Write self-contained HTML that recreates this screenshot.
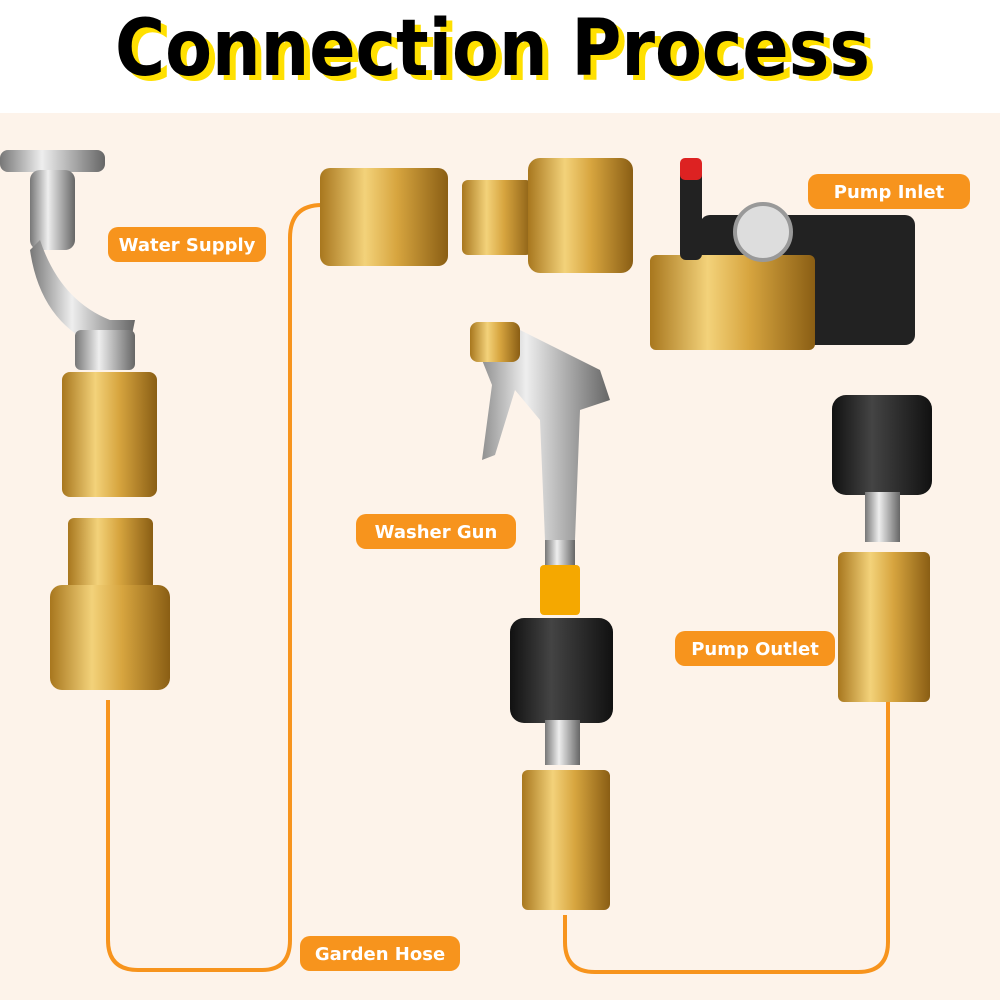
<!DOCTYPE html>
<html><head><meta charset="utf-8"><style>
body{margin:0;width:1000px;height:1000px;overflow:hidden;background:#fff;font-family:"DejaVu Sans","Liberation Sans",sans-serif}
</style></head><body>
<svg width="1000" height="1000" viewBox="0 0 1000 1000" xmlns="http://www.w3.org/2000/svg">
<defs>
<linearGradient id="g" x1="0" x2="1"><stop offset="0" stop-color="#a8771e"/><stop offset=".35" stop-color="#f3d27a"/><stop offset=".6" stop-color="#d7a53f"/><stop offset="1" stop-color="#8a5e14"/></linearGradient>
<linearGradient id="s" x1="0" x2="1"><stop offset="0" stop-color="#777"/><stop offset=".4" stop-color="#eee"/><stop offset="1" stop-color="#666"/></linearGradient>
<linearGradient id="k" x1="0" x2="1"><stop offset="0" stop-color="#111"/><stop offset=".4" stop-color="#444"/><stop offset="1" stop-color="#111"/></linearGradient>
</defs>
<rect x="0" y="113" width="1000" height="887" fill="#fdf3ea"/>
<text x="121" y="80" font-family="DejaVu Sans" font-weight="bold" font-size="78" fill="#ffe000" textLength="755" lengthAdjust="spacingAndGlyphs">Connection Process</text>
<text x="115" y="75" font-family="DejaVu Sans" font-weight="bold" font-size="78" fill="#000" textLength="755" lengthAdjust="spacingAndGlyphs">Connection Process</text>
<g fill="none" stroke="#f7941d" stroke-width="4">
<path d="M108 700 V940 Q108 970 138 970 H262 Q290 970 290 940 V238 Q290 205 322 205"/>
<path d="M565 915 V942 Q565 972 595 972 H858 Q888 972 888 942 V700"/>
</g>
<!-- faucet -->
<rect x="0" y="150" width="105" height="22" rx="8" fill="url(#s)"/>
<rect x="30" y="170" width="45" height="80" rx="10" fill="url(#s)"/>
<path d="M40 240 Q60 300 110 320 L135 320 L130 345 L95 345 Q40 320 30 250Z" fill="url(#s)"/>
<rect x="75" y="330" width="60" height="40" rx="6" fill="url(#s)"/>
<!-- left brass -->
<rect x="62" y="372" width="95" height="125" rx="8" fill="url(#g)"/>
<rect x="68" y="518" width="85" height="75" rx="6" fill="url(#g)"/>
<rect x="50" y="585" width="120" height="105" rx="12" fill="url(#g)"/>
<!-- top brass -->
<rect x="320" y="168" width="128" height="98" rx="10" fill="url(#g)"/>
<rect x="462" y="180" width="70" height="75" rx="6" fill="url(#g)"/>
<rect x="528" y="158" width="105" height="115" rx="12" fill="url(#g)"/>
<!-- pump -->
<rect x="700" y="215" width="215" height="130" rx="10" fill="#222"/>
<rect x="650" y="255" width="165" height="95" rx="6" fill="url(#g)"/>
<circle cx="763" cy="232" r="28" fill="#ddd" stroke="#999" stroke-width="4"/>
<rect x="680" y="160" width="22" height="100" rx="6" fill="#222"/>
<rect x="680" y="158" width="22" height="22" rx="5" fill="#d22"/>
<!-- gun -->
<path d="M470 330 L520 330 L600 370 L610 400 L580 410 L575 540 L545 540 L540 420 L515 390 L495 455 L482 460 L492 385 Z" fill="url(#s)"/>
<rect x="470" y="322" width="50" height="40" rx="8" fill="url(#g)"/>
<rect x="545" y="540" width="30" height="25" fill="url(#s)"/>
<rect x="540" y="565" width="40" height="50" rx="4" fill="#f5a800"/>
<!-- middle fittings -->
<rect x="510" y="618" width="103" height="105" rx="14" fill="url(#k)"/>
<rect x="545" y="720" width="35" height="45" fill="url(#s)"/>
<rect x="522" y="770" width="88" height="140" rx="6" fill="url(#g)"/>
<!-- right fittings -->
<rect x="832" y="395" width="100" height="100" rx="14" fill="url(#k)"/>
<rect x="865" y="492" width="35" height="50" fill="url(#s)"/>
<rect x="838" y="552" width="92" height="150" rx="6" fill="url(#g)"/>
<!-- labels -->
<g font-family="DejaVu Sans" font-weight="bold" font-size="18" fill="#fff">
<rect x="108" y="227" width="158" height="35" rx="10" fill="#f7941d"/><text x="187" y="251" text-anchor="middle">Water Supply</text>
<rect x="808" y="174" width="162" height="35" rx="10" fill="#f7941d"/><text x="889" y="198" text-anchor="middle">Pump Inlet</text>
<rect x="356" y="514" width="160" height="35" rx="10" fill="#f7941d"/><text x="436" y="538" text-anchor="middle">Washer Gun</text>
<rect x="675" y="631" width="160" height="35" rx="10" fill="#f7941d"/><text x="755" y="655" text-anchor="middle">Pump Outlet</text>
<rect x="300" y="936" width="160" height="35" rx="10" fill="#f7941d"/><text x="380" y="960" text-anchor="middle">Garden Hose</text>
</g>
</svg>
</body></html>
